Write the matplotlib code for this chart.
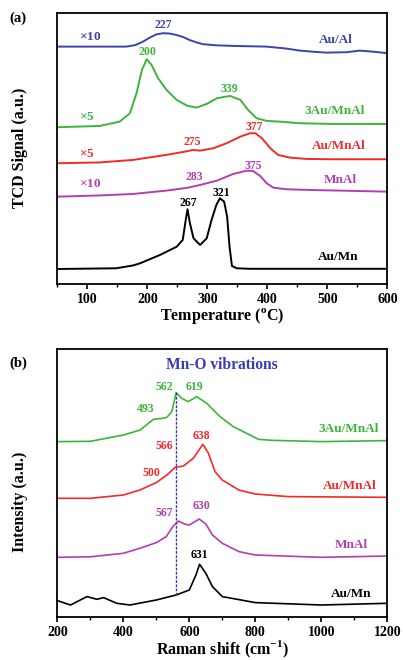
import numpy as np
import matplotlib
matplotlib.use('Agg')
import matplotlib.pyplot as plt

plt.rcParams['font.family'] = ['Liberation Serif', 'DejaVu Serif']
plt.rcParams['font.weight'] = 'bold'
plt.rcParams['axes.labelweight'] = 'bold'
plt.rcParams['mathtext.fontset'] = 'custom'
plt.rcParams['mathtext.rm'] = 'Liberation Serif:bold'
plt.rcParams['mathtext.bf'] = 'Liberation Serif:bold'

## TPR data (a) ##
tpr_auAl_T = [50, 100, 165, 180, 192, 204, 215, 226, 237, 248, 260, 270, 282, 293, 315, 343, 398, 430, 454, 480, 499, 532, 554, 575, 600]
tpr_auAl_y = [237.3, 237.3, 237.3, 238.8, 242, 246.3, 249.5, 250.7, 250.4, 249, 246.8, 244, 241.5, 239.7, 238.6, 238, 237.3, 235.5, 233.3, 232, 231.3, 231.7, 233.3, 232.3, 230.7]

tpr_3au_T = [50, 121, 154, 171, 182, 191, 199, 207, 218, 232, 249, 266, 282, 299, 316, 338, 355, 368, 382, 399, 421, 454, 510, 600]
tpr_3au_y = [156.7, 158, 162.3, 170.7, 190.7, 214, 224.7, 219, 205.7, 194, 184, 178.3, 176.3, 180, 185.7, 188, 184, 174, 165.7, 163, 162.3, 160.7, 160, 160]

tpr_auMnAl_T = [50, 120, 176, 231, 260, 276, 288, 310, 332, 355, 371, 380, 391, 405, 418, 438, 466, 510, 600]
tpr_auMnAl_y = [120.7, 121.5, 124, 129, 132, 134, 133.3, 135.7, 140.7, 147.3, 150.7, 150.7, 145.7, 135.7, 129, 126.3, 125, 124.7, 124.7]

tpr_mnAl_T = [50, 120, 176, 231, 265, 288, 316, 343, 366, 376, 388, 399, 410, 432, 471, 600]
tpr_mnAl_y = [87.3, 88.5, 90, 93.3, 96, 99, 103.3, 110, 113.3, 113, 108, 100.7, 96.3, 94.7, 94, 92.3]

tpr_auMn_T = [50, 148, 176, 188, 205, 221, 249, 259, 264, 267, 271, 277, 288, 299, 307, 315, 321, 328, 333, 337, 341, 349, 371, 600]
tpr_auMn_y = [15, 15.7, 18.5, 20.7, 25, 29, 37.3, 44, 64, 74.7, 60.7, 45.7, 39, 45.7, 64, 79, 85.7, 82.3, 67.3, 37.3, 18, 15.7, 15.2, 15.2]

## Raman data (b) ##
ram_3au_x = [200, 300, 400, 451, 491, 520, 532, 547, 560, 577, 597, 622, 653, 693, 733, 784, 809, 850, 1000, 1200]
ram_3au_y = [175.7, 176, 182.3, 187.3, 198, 199, 200, 205.7, 224.7, 219, 215.7, 220.7, 214, 200.7, 190.7, 182.3, 178, 177, 175.7, 176.7]

ram_auMnAl_x = [200, 300, 400, 450, 500, 532, 557, 582, 612, 641, 658, 678, 700, 750, 800, 900, 1200]
ram_auMnAl_y = [119, 119, 122.3, 127.3, 134.7, 142.3, 150, 151.3, 159, 173, 164, 145.6, 137.3, 127.3, 123.3, 120.7, 120]

ram_mnAl_x = [200, 300, 400, 450, 500, 530, 550, 567, 585, 600, 630, 650, 670, 700, 750, 800, 1000, 1200]
ram_mnAl_y = [60, 60.5, 64, 69, 74.7, 80.7, 90.7, 96.3, 93.3, 92.3, 98.3, 93.3, 82.3, 74, 65.7, 62.3, 60, 61.3]

ram_auMn_x = [200, 240, 290, 320, 340, 380, 420, 500, 560, 600, 620, 631, 650, 670, 700, 800, 1000, 1200]
ram_auMn_y = [16.7, 12.3, 20.7, 18, 19.7, 14, 12.3, 17.3, 22.3, 27.3, 42.3, 53, 44, 30.7, 20.7, 14.7, 12.3, 14]

c_blue = '#3b44a8'
c_green = '#3cb43c'
c_red = '#f22a2a'
c_mag = '#b040b0'
c_black = 'black'
c_dash = '#3a3ab8'

fig = plt.figure(figsize=(4.03, 6.6), dpi=100)
ax1 = fig.add_axes([0.1422, 0.5697, 0.819, 0.41])
ax2 = fig.add_axes([0.1422, 0.0647, 0.819, 0.406])

lw = 1.4
ax1.plot(tpr_auAl_T, tpr_auAl_y, color=c_blue, lw=lw)
ax1.plot(tpr_3au_T, tpr_3au_y, color=c_green, lw=lw)
ax1.plot(tpr_auMnAl_T, tpr_auMnAl_y, color=c_red, lw=lw)
ax1.plot(tpr_mnAl_T, tpr_mnAl_y, color=c_mag, lw=lw)
ax1.plot(tpr_auMn_T, tpr_auMn_y, color=c_black, lw=lw)

fs_num = 8.5
fs_lab = 9.5
# peak labels (a)
ax1.text(226, 259, '227', color=c_blue, ha='center', va='center', fontsize=fs_num)
ax1.text(201, 232, '200', color=c_green, ha='center', va='center', fontsize=fs_num)
ax1.text(337, 195, '339', color=c_green, ha='center', va='center', fontsize=fs_num)
ax1.text(275, 142, '275', color=c_red, ha='center', va='center', fontsize=fs_num)
ax1.text(379, 157, '377', color=c_red, ha='center', va='center', fontsize=fs_num)
ax1.text(279, 107, '283', color=c_mag, ha='center', va='center', fontsize=fs_num)
ax1.text(376, 118, '375', color=c_mag, ha='center', va='center', fontsize=fs_num)
ax1.text(268, 81, '267', color=c_black, ha='center', va='center', fontsize=fs_num)
ax1.text(323, 91, '321', color=c_black, ha='center', va='center', fontsize=fs_num)

# multipliers
ax1.text(86, 247, r'$\times$10', color=c_blue, ha='left', va='center', fontsize=9.5)
ax1.text(86, 167, r'$\times$5', color=c_green, ha='left', va='center', fontsize=9.5)
ax1.text(86, 130, r'$\times$5', color=c_red, ha='left', va='center', fontsize=9.5)
ax1.text(86, 100, r'$\times$10', color=c_mag, ha='left', va='center', fontsize=9.5)

# sample names
ax1.text(543, 244, 'Au/Al', color=c_blue, ha='right', va='center', fontsize=fs_lab)
ax1.text(563, 173, '3Au/MnAl', color=c_green, ha='right', va='center', fontsize=fs_lab)
ax1.text(563, 138, 'Au/MnAl', color=c_red, ha='right', va='center', fontsize=fs_lab)
ax1.text(550, 104, 'MnAl', color=c_mag, ha='right', va='center', fontsize=fs_lab)
ax1.text(552, 27, 'Au/Mn', color=c_black, ha='right', va='center', fontsize=fs_lab)

ax1.set_xlim(50, 600)
ax1.set_ylim(0, 270.5)
ax1.set_xticks([100, 200, 300, 400, 500, 600])
ax1.set_xticks([50, 150, 250, 350, 450, 550], minor=True)
ax1.set_yticks([])
ax1.set_xlabel(r'Temperature ($^{\mathrm{o}}$C)', fontsize=11.5)
ax1.xaxis.label.set_va('center')
ax1.xaxis.set_label_coords(0.5, -0.118)
ax1.set_ylabel('TCD Signal (a.u.)', fontsize=11.5)
ax1.yaxis.label.set_va('center')
ax1.yaxis.set_label_coords(-0.113, 0.504)

# Raman (b)
lw2 = 1.2
ax2.plot(ram_3au_x, ram_3au_y, color=c_green, lw=lw2)
ax2.plot(ram_auMnAl_x, ram_auMnAl_y, color=c_red, lw=lw2)
ax2.plot(ram_mnAl_x, ram_mnAl_y, color=c_mag, lw=lw2)
ax2.plot(ram_auMn_x, ram_auMn_y, color=c_black, lw=lw2)
ax2.plot([560, 560], [22.3, 225.6], color=c_dash, lw=1, ls=(0, (2, 1)))

ax2.text(698, 252.3, 'Mn-O vibrations', color=c_dash, ha='center', va='center', fontsize=11.2)
ax2.text(523, 230.7, '562', color=c_green, ha='center', va='center', fontsize=fs_num)
ax2.text(615, 230.7, '619', color=c_green, ha='center', va='center', fontsize=fs_num)
ax2.text(468, 208, '493', color=c_green, ha='center', va='center', fontsize=fs_num)
ax2.text(637, 181.7, '638', color=c_red, ha='center', va='center', fontsize=fs_num)
ax2.text(524, 171.3, '566', color=c_red, ha='center', va='center', fontsize=fs_num)
ax2.text(486, 144.7, '500', color=c_red, ha='center', va='center', fontsize=fs_num)
ax2.text(524, 104, '567', color=c_mag, ha='center', va='center', fontsize=fs_num)
ax2.text(637, 111.7, '630', color=c_mag, ha='center', va='center', fontsize=fs_num)
ax2.text(630, 62.3, '631', color=c_black, ha='center', va='center', fontsize=fs_num)

ax2.text(1173, 188, '3Au/MnAl', color=c_green, ha='right', va='center', fontsize=fs_lab)
ax2.text(1166, 131.7, 'Au/MnAl', color=c_red, ha='right', va='center', fontsize=fs_lab)
ax2.text(1142, 72.3, 'MnAl', color=c_mag, ha='right', va='center', fontsize=fs_lab)
ax2.text(1152, 23.3, 'Au/Mn', color=c_black, ha='right', va='center', fontsize=fs_lab)

ax2.set_xlim(200, 1200)
ax2.set_ylim(0, 268)
ax2.set_xticks([200, 400, 600, 800, 1000, 1200])
ax2.set_xticks([300, 500, 700, 900, 1100], minor=True)
ax2.set_yticks([])
ax2.set_xlabel(r'Raman shift (cm$^{-1}$)', fontsize=11.5)
ax2.xaxis.label.set_va('center')
ax2.xaxis.set_label_coords(0.5, -0.12)
ax2.set_ylabel('Intensity (a.u.)', fontsize=11.5)
ax2.yaxis.label.set_va('center')
ax2.yaxis.set_label_coords(-0.113, 0.43)

for ax in (ax1, ax2):
    for s in ax.spines.values():
        s.set_linewidth(1.3)
    ax.tick_params(axis='x', which='major', direction='out', length=3.5, width=1.2, labelsize=10, pad=3)
    ax.tick_params(axis='x', which='minor', direction='out', length=2.5, width=1.0)
    for lab in ax.get_xticklabels():
        lab.set_fontweight('bold')

fig.text(0.045, 0.973, '(a)', fontsize=10.5, ha='center', va='center')
fig.text(0.045, 0.45, '(b)', fontsize=10.5, ha='center', va='center')

fig.savefig('out.png', dpi=100)
